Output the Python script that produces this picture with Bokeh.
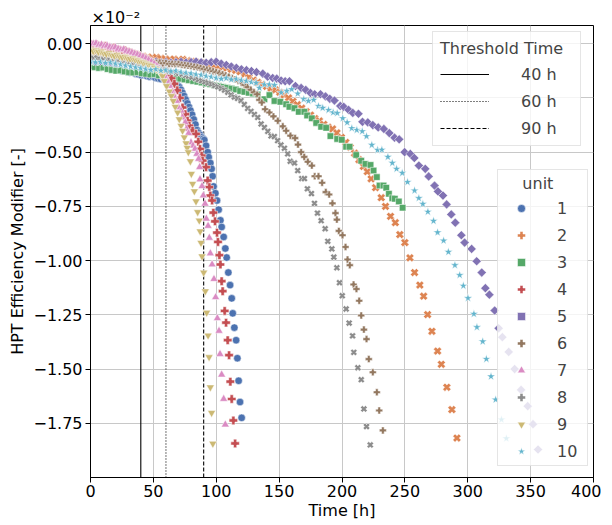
import math
from bokeh.plotting import figure
from bokeh.models import ColumnDataSource, Legend, LegendItem, Range1d, FixedTicker
from bokeh.embed import file_html
from bokeh.resources import INLINE

# HPT efficiency modifier values are given in units of 1e-2 (axis offset "x10^-2")
# ---------------- unit 1 ----------------
h1_early = [0.0, 2.2, 4.5, 6.7, 9.0, 11.2, 13.4, 15.7, 17.9, 20.1, 22.4, 24.6, 26.9, 29.1, 31.3, 33.6, 35.8, 38.0,
            40.3, 42.5, 44.8, 47.0, 49.2, 51.5, 53.7, 55.9, 58.2, 60.4, 62.7, 64.9, 67.1]
e1_early = [-0.092, -0.098, -0.095, -0.104, -0.101, -0.108, -0.112, -0.109, -0.117, -0.115, -0.121, -0.125, -0.122,
            -0.129, -0.133, -0.130, -0.138, -0.141, -0.145, -0.143, -0.149, -0.152, -0.150, -0.157, -0.160, -0.163,
            -0.161, -0.168, -0.172, -0.176, -0.183]
h1_late = [69.3, 70.6, 71.9, 73.1, 74.4, 75.7, 77.0, 78.3, 79.5, 80.8, 82.1, 83.4, 84.7, 85.9, 87.2, 88.5, 89.6, 90.5,
           91.9, 93.2, 94.0, 95.3, 96.3, 97.1, 97.9, 99.3, 100.6, 101.9, 103.3, 104.3, 105.9, 107.2, 108.3, 109.6,
           111.0, 112.3, 113.1, 114.4, 115.8, 116.8, 117.8, 118.9, 120.2]
e1_late = [-0.192, -0.200, -0.212, -0.226, -0.241, -0.257, -0.275, -0.292, -0.308, -0.327, -0.349, -0.372, -0.398,
           -0.410, -0.420, -0.431, -0.438, -0.444, -0.470, -0.500, -0.523, -0.550, -0.577, -0.611, -0.658, -0.689,
           -0.723, -0.765, -0.814, -0.845, -0.891, -0.944, -0.986, -1.055, -1.113, -1.174, -1.243, -1.309, -1.367,
           -1.450, -1.554, -1.652, -1.725]
# ---------------- unit 2 ----------------
h2_early = [0.0, 3.5, 7.0, 10.5, 14.0, 17.5, 21.0, 24.5, 28.0, 31.5, 35.0, 38.5, 42.0, 45.5, 49.0, 52.5, 56.0, 59.5,
            63.0, 66.5, 70.0, 73.5, 77.0, 80.5, 84.0, 87.5, 91.0, 94.5, 98.0, 101.5, 105.0, 108.5, 112.0, 115.5,
            119.0, 122.5, 126.0, 129.5, 133.0, 136.5, 140.0, 143.5, 147.0, 150.5, 154.0, 157.5, 161.0, 164.5, 168.0,
            171.5, 175.0, 178.5, 182.0, 185.5, 189.0, 192.5, 196.0, 199.5, 203.0, 206.5, 210.0, 213.5, 217.0]
e2_early = [-0.040, -0.045, -0.043, -0.049, -0.047, -0.052, -0.050, -0.055, -0.053, -0.057, -0.056, -0.060, -0.058,
            -0.062, -0.064, -0.063, -0.068, -0.070, -0.073, -0.071, -0.075, -0.072, -0.078, -0.082, -0.085, -0.088,
            -0.092, -0.097, -0.100, -0.104, -0.108, -0.112, -0.118, -0.123, -0.129, -0.140, -0.155, -0.168, -0.178,
            -0.188, -0.197, -0.205, -0.213, -0.224, -0.236, -0.250, -0.266, -0.281, -0.297, -0.313, -0.329, -0.345,
            -0.356, -0.372, -0.385, -0.393, -0.411, -0.432, -0.455, -0.478, -0.505, -0.535, -0.566]
h2_late = [220.1, 223.2, 226.7, 231.2, 234.6, 238.6, 242.4, 246.0, 250.0, 254.0, 257.7, 261.9, 264.9, 268.1, 271.5,
           276.0, 279.0, 283.4, 287.4, 291.4]
e2_late = [-0.590, -0.623, -0.664, -0.710, -0.750, -0.796, -0.825, -0.880, -0.917, -0.987, -1.055, -1.113, -1.164,
           -1.249, -1.326, -1.417, -1.478, -1.584, -1.687, -1.818]
# ---------------- unit 3 ----------------
h3_early = [0.0, 3.4, 6.8, 10.2, 13.6, 17.0, 20.4, 23.8, 27.2, 30.6, 34.0, 37.4, 40.8, 44.2, 47.6, 51.0, 54.4, 57.8,
            61.2, 64.6, 68.0, 71.4, 74.8, 78.2, 81.6, 85.0, 88.4, 91.8, 95.2, 98.6, 102.0, 105.4, 108.8, 112.2,
            115.6, 119.0, 122.4, 125.8, 129.2]
e3_early = [-0.104, -0.108, -0.112, -0.110, -0.117, -0.121, -0.125, -0.123, -0.128, -0.131, -0.133, -0.131, -0.136,
            -0.139, -0.142, -0.140, -0.146, -0.149, -0.152, -0.155, -0.158, -0.161, -0.165, -0.168, -0.172, -0.175,
            -0.179, -0.183, -0.187, -0.191, -0.195, -0.199, -0.203, -0.207, -0.211, -0.218, -0.222, -0.226, -0.230]
h3_late = [133.0, 138.3, 142.3, 146.3, 151.0, 155.6, 158.2, 162.2, 165.6, 170.1, 172.3, 176.0, 179.5, 183.4, 187.4,
           190.8, 196.2, 199.8, 203.3, 206.0, 211.3, 215.3, 218.7, 222.7, 225.1, 227.7, 229.9, 233.0, 235.2, 237.3,
           240.0, 242.0, 245.2, 248.2]
e3_late = [-0.234, -0.256, -0.237, -0.264, -0.268, -0.279, -0.291, -0.297, -0.314, -0.314, -0.331, -0.344, -0.365,
           -0.383, -0.388, -0.426, -0.439, -0.443, -0.475, -0.475, -0.513, -0.540, -0.554, -0.559, -0.585, -0.615,
           -0.654, -0.654, -0.664, -0.692, -0.712, -0.715, -0.727, -0.756]
# ---------------- unit 4 ----------------
h4_early = [0.0, 2.3, 4.6, 6.9, 9.2, 11.5, 13.8, 16.1, 18.4, 20.7, 23.0, 25.3, 27.6, 29.9, 32.2, 34.5, 36.8, 39.1,
            41.4, 43.7, 46.0, 48.3, 50.6, 52.9, 55.2, 57.5, 59.8, 62.1, 64.4, 66.7, 69.0, 71.1]
e4_early = [-0.002, -0.006, -0.004, -0.010, -0.013, -0.011, -0.018, -0.021, -0.019, -0.026, -0.029, -0.033, -0.031,
            -0.038, -0.042, -0.047, -0.051, -0.056, -0.062, -0.067, -0.074, -0.081, -0.088, -0.097, -0.106, -0.116,
            -0.128, -0.142, -0.160, -0.185, -0.215, -0.250]
h4_late = [73.2, 75.4, 77.2, 78.6, 81.2, 83.9, 85.7, 87.1, 88.4, 89.2, 91.9, 93.2, 94.5, 95.3, 96.7, 97.7, 99.0,
           100.6, 101.4, 102.5, 103.3, 104.3, 105.1, 106.7, 107.8, 109.1, 110.2, 111.2, 112.3, 113.6, 115.0]
e4_late = [-0.294, -0.325, -0.355, -0.378, -0.401, -0.416, -0.452, -0.485, -0.516, -0.539, -0.569, -0.631, -0.661,
           -0.700, -0.723, -0.779, -0.819, -0.871, -0.914, -0.975, -1.018, -1.095, -1.141, -1.232, -1.286, -1.367,
           -1.436, -1.558, -1.638, -1.737, -1.843]
# ---------------- unit 5 ----------------
h5_early = [0.0, 4.0, 8.0, 12.0, 16.0, 20.0, 24.0, 28.0, 32.0, 36.0, 40.0, 44.0, 48.0, 52.0, 56.0, 60.0, 64.0, 68.0,
            72.0, 76.0, 80.0, 84.0, 88.0, 92.0, 96.0, 100.0, 104.0, 108.0, 112.0, 116.0, 120.0, 124.0, 128.0, 132.0]
e5_early = [-0.078, -0.081, -0.079, -0.083, -0.082, -0.085, -0.083, -0.086, -0.084, -0.087, -0.085, -0.088, -0.086,
            -0.084, -0.087, -0.085, -0.088, -0.086, -0.084, -0.087, -0.085, -0.083, -0.086, -0.088, -0.085, -0.083,
            -0.092, -0.098, -0.105, -0.111, -0.118, -0.122, -0.126, -0.131]
h5_late = [137.0, 140.9, 144.9, 148.1, 151.6, 154.8, 158.2, 163.0, 167.5, 171.2, 174.9, 178.3, 182.9, 186.9, 190.3,
           194.0, 198.6, 201.4, 205.2, 208.6, 213.1, 216.3, 220.5, 224.5, 228.8, 233.3, 237.6, 241.8, 245.5, 249.8,
           254.3, 257.5, 261.1, 266.2, 268.9, 273.6, 276.3, 280.3, 283.2, 286.9, 290.1, 294.9, 297.5, 303.1, 307.1,
           311.1, 314.0, 317.2, 321.4, 324.6, 327.5, 332.6, 337.3, 342.4, 347.7, 351.9, 355.9]
e5_late = [-0.138, -0.152, -0.158, -0.161, -0.170, -0.173, -0.173, -0.195, -0.204, -0.213, -0.227, -0.233, -0.233,
           -0.243, -0.254, -0.262, -0.287, -0.291, -0.305, -0.319, -0.323, -0.360, -0.363, -0.375, -0.386, -0.393,
           -0.412, -0.433, -0.441, -0.500, -0.508, -0.527, -0.562, -0.577, -0.612, -0.654, -0.681, -0.700, -0.741,
           -0.787, -0.825, -0.883, -0.917, -0.946, -1.003, -1.055, -1.127, -1.157, -1.230, -1.312, -1.353, -1.421,
           -1.500, -1.596, -1.671, -1.754, -1.871]
# ---------------- unit 6 ----------------
h6_early = [0.0, 2.5, 5.0, 7.5, 10.0, 12.5, 15.0, 17.5, 20.0, 22.5, 25.0, 27.5, 30.0, 32.5, 35.0, 37.5, 40.0, 42.5,
            45.0, 47.5, 50.0, 52.5, 55.0, 57.5, 60.0, 62.5, 65.0, 67.5, 70.0, 72.5, 75.0, 77.5, 80.0, 82.5, 85.0,
            87.5, 90.0, 92.5, 95.0, 97.5, 100.0, 102.5, 105.0, 107.5, 110.0, 112.5, 115.0, 117.5, 120.0, 122.5,
            125.0, 127.5, 130.0]
e6_early = [-0.062, -0.066, -0.064, -0.069, -0.067, -0.071, -0.070, -0.074, -0.072, -0.076, -0.075, -0.078, -0.077,
            -0.080, -0.079, -0.082, -0.081, -0.084, -0.083, -0.086, -0.085, -0.088, -0.087, -0.090, -0.089, -0.093,
            -0.092, -0.095, -0.094, -0.097, -0.099, -0.101, -0.104, -0.106, -0.109, -0.112, -0.116, -0.119, -0.123,
            -0.127, -0.131, -0.136, -0.141, -0.146, -0.152, -0.158, -0.165, -0.172, -0.180, -0.190, -0.200, -0.212,
            -0.224]
h6_late = [132.5, 134.3, 136.2, 138.9, 142.3, 145.5, 148.9, 152.9, 155.6, 159.0, 162.7, 165.0, 167.5, 170.0, 172.8,
           176.0, 178.3, 181.3, 184.2, 187.1, 189.8, 192.4, 194.8, 195.9, 197.5, 200.4, 202.8, 204.4, 206.2, 209.2,
           211.5, 213.7, 215.3, 217.4, 219.5, 221.3, 224.5, 227.7, 229.6, 232.5]
e6_late = [-0.233, -0.259, -0.271, -0.302, -0.317, -0.335, -0.355, -0.381, -0.401, -0.424, -0.435, -0.465, -0.500,
           -0.522, -0.544, -0.562, -0.611, -0.611, -0.641, -0.684, -0.695, -0.736, -0.781, -0.811, -0.863, -0.883,
           -0.937, -0.995, -1.021, -1.110, -1.131, -1.185, -1.253, -1.318, -1.362, -1.454, -1.515, -1.607, -1.691,
           -1.783]
# ---------------- unit 7 ----------------
h7_early = [0.0, 2.2, 4.4, 6.6, 8.8, 11.0, 13.2, 15.4, 17.6, 19.8, 22.0, 24.2, 26.4, 28.6, 30.8, 33.0, 35.2, 37.4,
            39.6, 41.8, 44.0, 46.2, 48.4, 50.6, 52.8, 55.0, 57.2, 59.4, 61.4]
e7_early = [0.004, -0.001, 0.002, -0.006, -0.004, -0.011, -0.009, -0.015, -0.019, -0.017, -0.024, -0.028, -0.026,
            -0.033, -0.037, -0.041, -0.046, -0.050, -0.056, -0.061, -0.068, -0.075, -0.083, -0.092, -0.103, -0.116,
            -0.131, -0.150, -0.172]
h7_late = [63.2, 65.3, 66.6, 68.5, 70.1, 72.0, 73.2, 75.4, 76.4, 78.0, 79.9, 81.5, 83.1, 84.6, 86.0, 86.8, 87.1,
           88.7, 89.7, 91.1, 92.1, 93.5, 94.5, 95.3, 96.7, 98.2, 99.5, 100.9, 102.2, 103.0, 104.3, 105.9, 107.2]
e7_late = [-0.195, -0.220, -0.241, -0.264, -0.294, -0.309, -0.340, -0.363, -0.393, -0.413, -0.455, -0.470, -0.485,
           -0.508, -0.531, -0.569, -0.626, -0.657, -0.700, -0.738, -0.807, -0.840, -0.895, -0.967, -1.018, -1.085,
           -1.169, -1.266, -1.324, -1.431, -1.526, -1.638, -1.756]
# ---------------- unit 8 ----------------
h8_early = [0.0, 2.6, 5.2, 7.8, 10.4, 13.0, 15.6, 18.2, 20.8, 23.4, 26.0, 28.6, 31.2, 33.8, 36.4, 39.0, 41.6, 44.2,
            46.8, 49.4, 52.0, 54.6, 57.2, 59.8, 62.4, 65.0, 67.6, 70.2, 72.8, 75.4, 78.0, 80.6, 83.2, 85.8, 88.4,
            91.0, 93.6, 96.2, 98.8, 101.4, 104.0, 106.6, 109.2, 111.8, 114.4, 117.0, 119.7, 122.3, 125.0, 127.6,
            130.3, 133.0, 135.7, 138.3, 141.0, 143.6, 146.2, 148.8, 151.4, 154.2, 156.8]
e8_early = [-0.064, -0.068, -0.066, -0.071, -0.074, -0.072, -0.077, -0.080, -0.078, -0.083, -0.086, -0.089, -0.087,
            -0.092, -0.095, -0.098, -0.101, -0.104, -0.107, -0.110, -0.113, -0.116, -0.120, -0.123, -0.127, -0.130,
            -0.133, -0.137, -0.141, -0.146, -0.150, -0.155, -0.160, -0.166, -0.171, -0.176, -0.181, -0.186, -0.193,
            -0.199, -0.206, -0.214, -0.224, -0.236, -0.246, -0.252, -0.262, -0.280, -0.298, -0.312, -0.326, -0.340,
            -0.370, -0.386, -0.404, -0.425, -0.428, -0.447, -0.467, -0.482, -0.508]
h8_late = [158.8, 162.2, 164.8, 168.0, 170.1, 172.5, 175.7, 178.1, 180.5, 183.4, 186.6, 188.7, 191.9, 193.5, 195.9,
           198.0, 200.2, 203.3, 205.7, 208.4, 209.4, 212.6, 215.3, 217.4, 219.5, 222.5]
e8_late = [-0.542, -0.550, -0.585, -0.622, -0.622, -0.669, -0.691, -0.736, -0.781, -0.816, -0.853, -0.911, -0.946,
           -0.984, -1.033, -1.102, -1.162, -1.223, -1.288, -1.347, -1.423, -1.494, -1.549, -1.684, -1.765, -1.850]
# ---------------- unit 9 ----------------
h9_early = [0.0, 2.1, 4.2, 6.3, 8.4, 10.5, 12.6, 14.7, 16.8, 18.9, 21.0, 23.1, 25.2, 27.3, 29.4, 31.5, 33.6, 35.7,
            37.8, 39.9, 42.0, 44.1, 46.2, 48.3, 50.4, 52.5, 54.6, 56.0]
e9_early = [-0.028, -0.034, -0.031, -0.038, -0.036, -0.043, -0.047, -0.044, -0.051, -0.055, -0.052, -0.058, -0.062,
            -0.060, -0.066, -0.070, -0.068, -0.074, -0.078, -0.083, -0.087, -0.092, -0.097, -0.103, -0.110, -0.118,
            -0.128, -0.138]
h9_late = [57.3, 58.7, 60.5, 62.7, 64.3, 65.8, 67.4, 69.3, 70.6, 72.0, 73.2, 74.6, 76.0, 76.9, 77.8, 79.4, 80.2,
           81.2, 82.6, 83.9, 85.2, 86.5, 87.2, 87.9, 88.7, 90.0, 91.3, 92.4, 93.5, 94.3, 95.3, 96.3, 97.3]
e9_late = [-0.149, -0.172, -0.195, -0.220, -0.241, -0.264, -0.291, -0.317, -0.348, -0.378, -0.401, -0.432, -0.459,
           -0.480, -0.500, -0.542, -0.600, -0.646, -0.680, -0.727, -0.776, -0.815, -0.865, -0.918, -0.980, -1.055,
           -1.141, -1.240, -1.345, -1.445, -1.584, -1.702, -1.844]
# ---------------- unit 10 ----------------
h10_early = [0.0, 4.0, 8.0, 12.0, 16.0, 20.0, 24.0, 28.0, 32.0, 36.0, 40.0, 44.0, 48.0, 52.0, 56.0, 60.0, 64.0, 68.0,
             72.0, 76.0, 80.0, 84.0, 88.0, 92.0, 96.0, 100.0, 104.0, 108.0, 112.0, 116.0, 120.0, 124.0, 128.0]
e10_early = [-0.082, -0.086, -0.084, -0.089, -0.087, -0.092, -0.096, -0.101, -0.105, -0.109, -0.113, -0.117, -0.121,
             -0.118, -0.124, -0.122, -0.127, -0.125, -0.131, -0.134, -0.137, -0.141, -0.144, -0.149, -0.153, -0.158,
             -0.162, -0.159, -0.165, -0.163, -0.168, -0.172, -0.177]
h10_late = [131.7, 134.3, 138.3, 142.3, 146.3, 151.6, 156.1, 160.0, 164.8, 169.6, 173.3, 177.5, 181.3, 184.7, 189.3,
            193.0, 196.2, 200.6, 204.1, 207.8, 211.8, 216.1, 219.5, 223.7, 228.3, 231.7, 236.5, 240.0, 243.4, 247.9,
            252.1, 257.7, 261.1, 264.3, 268.3, 272.8, 276.0, 280.8, 284.6, 289.8, 293.6, 296.5, 300.2, 304.9, 307.3,
            311.9, 314.8, 318.5, 322.2, 326.8, 330.7]
e10_late = [-0.181, -0.204, -0.188, -0.188, -0.191, -0.225, -0.218, -0.210, -0.230, -0.256, -0.264, -0.259, -0.288,
            -0.296, -0.306, -0.317, -0.320, -0.344, -0.363, -0.390, -0.398, -0.404, -0.427, -0.467, -0.490, -0.489,
            -0.522, -0.550, -0.577, -0.596, -0.638, -0.677, -0.712, -0.739, -0.775, -0.817, -0.870, -0.908, -0.960,
            -1.021, -1.067, -1.116, -1.173, -1.246, -1.307, -1.373, -1.454, -1.534, -1.641, -1.733, -1.820]

unit_names = ["1", "2", "3", "4", "5", "6", "7", "8", "9", "10"]
unit_hours = [h1_early + h1_late, h2_early + h2_late, h3_early + h3_late, h4_early + h4_late, h5_early + h5_late,
              h6_early + h6_late, h7_early + h7_late, h8_early + h8_late, h9_early + h9_late, h10_early + h10_late]
unit_eff = [e1_early + e1_late, e2_early + e2_late, e3_early + e3_late, e4_early + e4_late, e5_early + e5_late,
            e6_early + e6_late, e7_early + e7_late, e8_early + e8_late, e9_early + e9_late, e10_early + e10_late]

threshold_hours = [40, 60, 90]
threshold_labels = ["40 h", "60 h", "90 h"]

x_ticks = [0, 50, 100, 150, 200, 250, 300, 350, 400]
y_ticks = [-1.75, -1.5, -1.25, -1.0, -0.75, -0.5, -0.25, 0.0]
y_tick_labels = ["\u22121.75", "\u22121.50", "\u22121.25", "\u22121.00", "\u22120.75", "\u22120.50", "\u22120.25", "0.00"]
offset_text = "\u00d710\u207b\u00b2"

# ---------------- styling ----------------
colors = ["#4C72B0", "#DD8452", "#55A868", "#C44E52", "#8172B3", "#937860", "#DA8BC3", "#8C8C8C", "#CCB974", "#64B5CD"]
markers = ["circle", "plus", "square", "plus", "square", "plus", "triangle", "plus", "inverted_triangle", "star"]
angles = [0, math.pi / 4, 0, 0, math.pi / 4, 0, 0, math.pi / 4, 0, 0]
sizes = [7.5, 8.5, 6.5, 8.5, 6.5, 7, 8, 7, 8, 9]
dashes = ["solid", "1 2", "4 2"]
FONT = "DejaVu Sans"
y_lo, y_hi = -2.0, 0.084
FRAME_W, FRAME_H = 503, 452

p = figure(frame_width=FRAME_W, frame_height=FRAME_H, x_range=Range1d(0, 400), y_range=Range1d(y_lo, y_hi),
           output_backend="svg", toolbar_location=None, title=offset_text,
           min_border_left=90, min_border_right=8, min_border_top=25, min_border_bottom=0)
p.background_fill_color = "white"
p.border_fill_color = "white"
p.outline_line_color = "black"
p.outline_line_width = 1
p.outline_line_alpha = 1.0

p.title.text_font = FONT
p.title.text_font_size = "16px"
p.title.text_font_style = "normal"
p.title.text_color = "black"
p.title.align = "left"
p.title.offset = 1
try:
    p.title.standoff = -3
except Exception:
    p.title.standoff = 0

p.xaxis.ticker = FixedTicker(ticks=x_ticks)
p.yaxis.ticker = FixedTicker(ticks=y_ticks)
p.yaxis.major_label_overrides = {t: l for t, l in zip(y_ticks, y_tick_labels)}
p.xaxis.axis_label = "Time [h]"
p.yaxis.axis_label = "HPT Efficiency Modifier [-]"
for ax in (p.xaxis[0], p.yaxis[0]):
    ax.axis_line_color = "black"
    ax.major_tick_line_color = "black"
    ax.major_tick_out = 5
    ax.major_tick_in = 0
    ax.minor_tick_line_color = None
    ax.major_label_text_font = FONT
    ax.major_label_text_font_size = "16px"
    ax.major_label_text_color = "black"
    ax.axis_label_text_font = FONT
    ax.axis_label_text_font_size = "16px"
    ax.axis_label_text_font_style = "normal"
    ax.axis_label_text_color = "black"
p.xaxis.major_label_standoff = 2
p.xaxis.axis_label_standoff = 1
p.yaxis.major_label_standoff = 3
p.yaxis.axis_label_standoff = 3

for g in (p.xgrid[0], p.ygrid[0]):
    g.grid_line_color = "#c8c8c8"
    g.grid_line_width = 1

# threshold lines
thr_items = []
for t, lab, d in zip(threshold_hours, threshold_labels, dashes):
    r = p.line(x=[t, t], y=[y_lo, y_hi], line_color="black", line_width=1.1, line_dash=d)
    thr_items.append(LegendItem(label=lab, renderers=[r]))

# unit scatter
unit_items = []
for name, hrs, eff, col, mk, ang, sz in zip(unit_names, unit_hours, unit_eff, colors, markers, angles, sizes):
    src = ColumnDataSource(dict(x=hrs, y=eff))
    r = p.scatter("x", "y", source=src, marker=mk, angle=ang, size=sz, fill_color=col, fill_alpha=1.0,
                  line_color="white", line_width=0.5)
    unit_items.append(LegendItem(label=name, renderers=[r]))

leg1 = Legend(items=thr_items, location=(342, FRAME_H - 121), title="Threshold Time\u00a0\u00a0",
              title_text_font=FONT, title_text_font_size="16px", title_text_font_style="normal",
              title_standoff=6, label_text_font=FONT, label_text_font_size="16px",
              glyph_width=49, glyph_height=20, label_standoff=32, label_width=43, label_height=20,
              spacing=7, padding=7, margin=0,
              border_line_color="#cccccc", border_line_width=1, background_fill_color="white",
              background_fill_alpha=0.8)
p.add_layout(leg1, "center")

leg2 = Legend(items=unit_items, location=(407, 11), title="\u00a0\u00a0\u00a0\u00a0unit",
              title_text_font=FONT, title_text_font_size="16px", title_text_font_style="normal",
              title_standoff=5, label_text_font=FONT, label_text_font_size="16px",
              glyph_width=38, glyph_height=20, label_standoff=17, label_width=26, label_height=20,
              spacing=7, padding=4, margin=0,
              border_line_color="#cccccc", border_line_width=1, background_fill_color="white",
              background_fill_alpha=0.8)
p.add_layout(leg2, "center")

open("out.html", "w").write(file_html(p, INLINE))
